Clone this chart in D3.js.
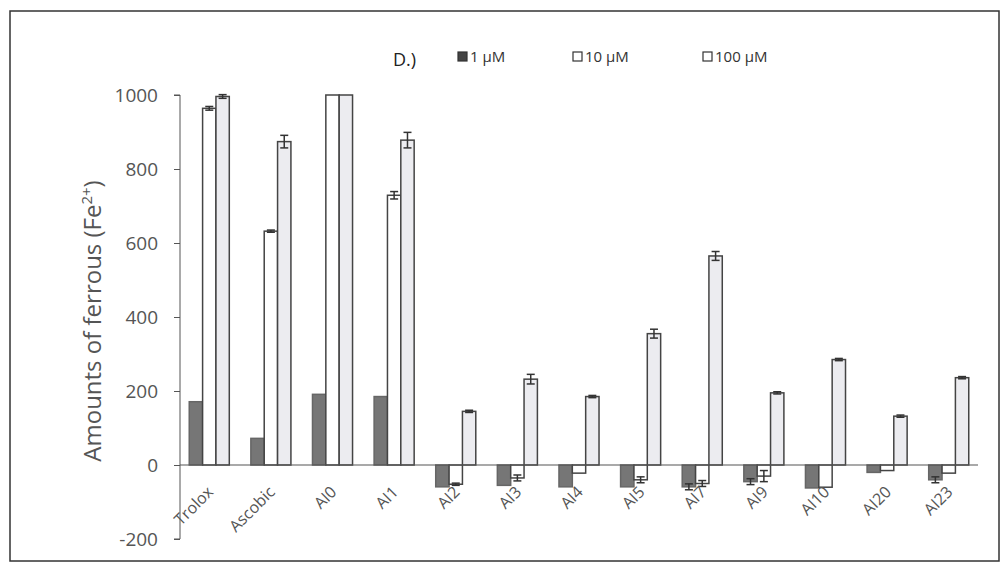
<!DOCTYPE html>
<html>
<head>
<meta http-equiv="Content-Type" content="text/html; charset=UTF-8">
<style>
body { margin: 0; background: #fff; }
text { font-family: "Open Sans", "Liberation Sans", sans-serif; }
.axis path, .axis line { stroke: #555; }
.axis text { fill: #555; font-size: 19px; }
</style>
</head>
<body>
<svg width="1003" height="563"></svg>
<script src="https://cdn.jsdelivr.net/npm/d3@7"></script>
<script>

var categories = ["Trolox", "Ascobic", "AI0", "AI1", "AI2", "AI3", "AI4", "AI5", "AI7", "AI9", "AI10", "AI20", "AI23"];
var seriesNames = ["1 \u00b5M", "10 \u00b5M", "100 \u00b5M"];
var v1 = [171, 72, 191, 185, -59, -55, -59, -59, -59, -45, -62, -20, -40];
var v10 = [964, 632, 1000, 729, -52, -35, -22, -40, -50, -30, -60, -15, -22];
var v100 = [996, 874, 1000, 878, 145, 232, 185, 355, 565, 195, 285, 132, 236];
var e1 = [0, 0, 0, 0, 0, 0, 0, 0, 8, 8, 0, 0, 8];
var e10 = [5, 3, 0, 10, 3, 8, 0, 8, 8, 15, 0, 0, 0];
var e100 = [5, 17, 0, 21, 3, 13, 3, 12, 12, 3, 3, 3, 3];
var yTicks = [-200, 0, 200, 400, 600, 800, 1000];

var fills = ["#767676", "#ffffff", "#ececf0"];
var values = [v1, v10, v100];
var errors = [e1, e10, e100];

var svg = d3.select("svg");

// outer frame
svg.append("rect")
    .attr("x", 10).attr("y", 11)
    .attr("width", 989).attr("height", 550)
    .attr("fill", "none")
    .attr("stroke", "#333")
    .attr("stroke-width", 1.5);

var x = d3.scaleBand()
    .domain(categories)
    .range([180, 978])
    .paddingInner(0.35)
    .paddingOuter(0.15);

var xs = d3.scaleBand()
    .domain([0, 1, 2])
    .range([0, x.bandwidth()]);

var y = d3.scaleLinear()
    .domain([-200, 1000])
    .range([539, 95]);

var rows = [];
categories.forEach(function(c, i) {
  for (var s = 0; s < 3; s++) {
    rows.push({ cat: c, s: s, v: values[s][i], e: errors[s][i] });
  }
});

svg.append("g")
    .attr("class", "axis")
    .attr("transform", "translate(180,0)")
    .call(d3.axisLeft(y).tickValues(yTicks).tickSize(6).tickPadding(16).tickFormat(function(d) { return String(d); }))
    .call(function(g) { g.select(".domain").attr("d", "M-6," + y(-200) + "H0V" + y(1000) + "H-6"); });

var bars = svg.append("g");

bars.selectAll("rect")
    .data(rows)
  .enter().append("rect")
    .attr("x", function(d) { return x(d.cat) + xs(d.s); })
    .attr("y", function(d) { return y(Math.max(0, d.v)); })
    .attr("width", xs.bandwidth())
    .attr("height", function(d) { return Math.abs(y(d.v) - y(0)); })
    .attr("fill", function(d) { return fills[d.s]; })
    .attr("stroke", function(d) { return d.s === 0 ? "#666" : "#444"; })
    .attr("stroke-width", 1.5);

// error bars
var eb = svg.append("g").attr("stroke", "#333").attr("stroke-width", 1.5);
rows.filter(function(d) { return d.e > 0; }).forEach(function(d) {
  var cx = x(d.cat) + xs(d.s) + xs.bandwidth() / 2;
  eb.append("line").attr("x1", cx).attr("x2", cx)
      .attr("y1", y(d.v - d.e)).attr("y2", y(d.v + d.e));
  [d.v - d.e, d.v + d.e].forEach(function(t) {
    eb.append("line").attr("x1", cx - 4).attr("x2", cx + 4)
        .attr("y1", y(t)).attr("y2", y(t));
  });
});

// x axis line at zero
svg.append("line")
    .attr("x1", 180).attr("x2", 978)
    .attr("y1", y(0)).attr("y2", y(0))
    .attr("stroke", "#555").attr("stroke-width", 1.2);

// category labels
svg.append("g").selectAll("text")
    .data(categories)
  .enter().append("text")
    .attr("transform", function(d) {
      return "translate(" + (x(d) + x.bandwidth() / 2 + 5) + "," + (y(0) + 28) + ") rotate(-45)";
    })
    .attr("text-anchor", "end")
    .attr("fill", "#555")
    .style("font-size", "16px")
    .text(function(d) { return d; });

// y axis title
var yt = svg.append("text")
    .attr("transform", "translate(101," + 321 + ") rotate(-90)")
    .attr("text-anchor", "middle")
    .attr("fill", "#555")
    .style("font-size", "24px");
yt.append("tspan").text("Amounts of ferrous (Fe");
yt.append("tspan").attr("dy", -9).style("font-size", "15px").text("2+");
yt.append("tspan").attr("dy", 9).text(")");

// panel tag + legend
svg.append("text")
    .attr("x", 393).attr("y", 66)
    .attr("fill", "#222")
    .style("font-size", "18px")
    .text("D.)");

var legendX = [458, 573, 703];
var lg = svg.append("g");
seriesNames.forEach(function(n, i) {
  lg.append("rect")
      .attr("x", legendX[i]).attr("y", 52)
      .attr("width", 9).attr("height", 9)
      .attr("fill", i === 0 ? "#444" : "#fff")
      .attr("stroke", "#333").attr("stroke-width", 1.2);
  lg.append("text")
      .attr("x", legendX[i] + 12).attr("y", 62)
      .attr("fill", "#333")
      .style("font-size", "15px")
      .text(n);
});

</script>
</body></html>
